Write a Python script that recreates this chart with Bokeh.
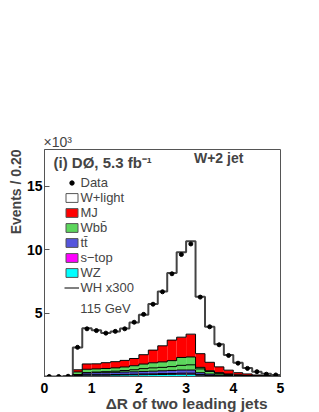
import numpy as np
from bokeh.plotting import figure
from bokeh.models import Range1d, FixedTicker, Label, Legend, LegendItem, Title
from bokeh.embed import file_html
from bokeh.resources import INLINE

# bin edges of Delta R (width 0.20)
edges = [0.0, 0.2, 0.4, 0.6, 0.8, 1.0, 1.2, 1.4, 1.6, 1.8, 2.0, 2.2, 2.4, 2.6,
         2.8, 3.0, 3.2, 3.4, 3.6, 3.8, 4.0, 4.2, 4.4, 4.6, 4.8, 5.0]

# events per bin, in units of 10^3
wz = [0, 0, 0, 0.05, 0.10, 0.10, 0.10, 0.11, 0.12, 0.13, 0.14, 0.15, 0.16, 0.17,
      0.18, 0.18, 0.10, 0.06, 0.04, 0.03, 0.02, 0.01, 0.01, 0, 0]
stop = [0, 0, 0, 0.02, 0.04, 0.04, 0.04, 0.05, 0.05, 0.05, 0.06, 0.06, 0.07, 0.07,
        0.08, 0.08, 0.05, 0.03, 0.02, 0.01, 0.01, 0.01, 0, 0, 0]
ttbar = [0, 0, 0, 0.08, 0.15, 0.16, 0.16, 0.17, 0.18, 0.19, 0.20, 0.21, 0.22, 0.24,
         0.25, 0.25, 0.15, 0.10, 0.06, 0.04, 0.03, 0.02, 0.01, 0.01, 0]
wbb = [0, 0, 0.01, 0.21, 0.28, 0.30, 0.33, 0.35, 0.40, 0.48, 0.58, 0.66, 0.70, 0.77,
       0.99, 1.03, 0.42, 0.26, 0.18, 0.12, 0.07, 0.04, 0.03, 0.02, 0.01]
mj = [0, 0, 0.02, 0.17, 0.42, 0.40, 0.46, 0.49, 0.52, 0.57, 0.74, 1.00, 1.27, 1.62,
      1.60, 1.80, 1.08, 0.67, 0.46, 0.30, 0.17, 0.12, 0.07, 0.04, 0.03]
wlight = [0, 0, 0, 1.75, 2.82, 2.65, 2.35, 2.38, 2.51, 2.84, 3.15, 3.63, 4.29, 5.29,
          6.70, 7.33, 4.49, 2.80, 1.79, 1.20, 0.79, 0.47, 0.26, 0.15, 0.08]
data = [0, 0, 0.02, 2.30, 3.76, 3.62, 3.42, 3.56, 3.76, 4.28, 4.90, 5.70, 6.68, 8.10,
        9.62, 10.45, 6.26, 3.92, 2.50, 1.66, 1.05, 0.64, 0.38, 0.18, 0.12]
wh300 = [0, 0, 0, 0.15, 0.30, 0.35, 0.38, 0.42, 0.47, 0.53, 0.62, 0.68, 0.72, 0.78,
         0.88, 0.92, 0.60, 0.40, 0.25, 0.15, 0.10, 0.06, 0.03, 0.02, 0.01]

x_ticks = [0, 1, 2, 3, 4, 5]
y_ticks = [5, 10, 15]

layers = [
    ("WZ", wz, "#00ffff"),
    ("s\u2212top", stop, "#ff00ff"),
    ("tt\u0304", ttbar, "#5555dd"),
    ("Wbb\u0304", wbb, "#5cd65c"),
    ("MJ", mj, "#ff0000"),
    ("W+light", wlight, "#ffffff"),
]

FONT = "Liberation Sans"
AX = "#555555"

p = figure(width=319, height=412, x_range=Range1d(0, 5), y_range=Range1d(0, 17.9),
           output_backend="svg", toolbar_location=None,
           min_border_left=44, min_border_right=39, min_border_top=149,
           min_border_bottom=36)
p.background_fill_color = "white"
p.border_fill_color = "white"
p.grid.visible = False
p.outline_line_color = AX
p.outline_line_width = 1

left = np.array(edges[:-1])
right = np.array(edges[1:])
centers = (left + right) / 2

bottom = np.zeros(len(left))
tops = []
for name, vals, col in layers:
    top = bottom + np.array(vals)
    p.quad(left=left, right=right, bottom=bottom, top=top,
           fill_color=col, line_color=None)
    tops.append(top)
    bottom = top

for i, top in enumerate(tops):
    ystep = np.append(top, top[-1])
    if i == len(tops) - 1:
        p.step(x=edges, y=ystep, mode="after", line_color="#444444", line_width=2)
    else:
        p.step(x=edges, y=ystep, mode="after", line_color="black", line_width=1)

r_wh = p.step(x=edges, y=np.append(wh300, wh300[-1]), mode="after",
              line_color="black", line_width=1)
r_data = p.scatter(x=centers, y=data, size=4, color="black")

# hidden legend proxies (boxes with outline)
proxies = {}
bottom = np.zeros(len(left))
for name, vals, col in layers:
    top = bottom + np.array(vals)
    proxies[name] = p.quad(left=left, right=right, bottom=bottom, top=top,
                           fill_color=col, line_color=AX, line_width=1,
                           visible=False)
    bottom = top

order = [layers[5], layers[4], layers[3], layers[2], layers[1], layers[0]]
items = [LegendItem(label="Data", renderers=[r_data])]
for name, vals, col in order:
    items.append(LegendItem(label=name, renderers=[proxies[name]]))
items.append(LegendItem(label="WH x300", renderers=[r_wh]))

legend = Legend(items=items, location=(19.5, 81), background_fill_alpha=0,
                border_line_alpha=0, label_text_font=FONT,
                label_text_font_size="13px", glyph_width=15, glyph_height=11,
                label_height=11, spacing=0, padding=0, margin=0,
                label_standoff=2, inactive_fill_alpha=0)
p.add_layout(legend)

# axes
for ax in (p.xaxis, p.yaxis):
    ax.axis_line_color = AX
    ax.major_tick_line_color = AX
    ax.major_tick_in = 5
    ax.major_tick_out = 0
    ax.minor_tick_line_color = None
    ax.major_label_text_font = FONT
    ax.major_label_text_font_style = "bold"
    ax.major_label_text_font_size = "14px"
    ax.major_label_text_color = "black"
p.xaxis.ticker = FixedTicker(ticks=x_ticks)
p.yaxis.ticker = FixedTicker(ticks=y_ticks)
p.xaxis.major_label_standoff = 6
p.yaxis.major_label_standoff = 2

# axis titles (ROOT style: aligned at the axis end)
p.add_layout(Title(text="\u0394R of two leading jets", align="right", offset=13,
                   text_font=FONT, text_font_style="bold", text_font_size="15.5px",
                   standoff=-5), "below")
p.add_layout(Title(text="Events / 0.20", align="right", offset=0,
                   text_font=FONT, text_font_style="bold", text_font_size="14px",
                   standoff=0), "left")
p.add_layout(Title(text="\u00d710\u00b3", align="left", offset=-1,
                   text_font=FONT, text_font_style="normal", text_font_size="14px",
                   standoff=-1), "above")

p.add_layout(Label(x=0.19, y=16.9, text="(i) D\u00d8, 5.3 fb\u207b\u00b9", text_font=FONT,
                   text_font_style="bold", text_font_size="15px",
                   text_align="left", text_baseline="middle"))
p.add_layout(Label(x=3.69, y=17.2, text="W+2 jet", text_font=FONT,
                   text_font_style="bold", text_font_size="14px",
                   text_align="center", text_baseline="middle"))
p.add_layout(Label(x=0.76, y=5.4, text="115 GeV", text_font=FONT,
                   text_font_size="13px", text_align="left", text_baseline="middle"))

open("out.html", "w").write(file_html(p, INLINE))
